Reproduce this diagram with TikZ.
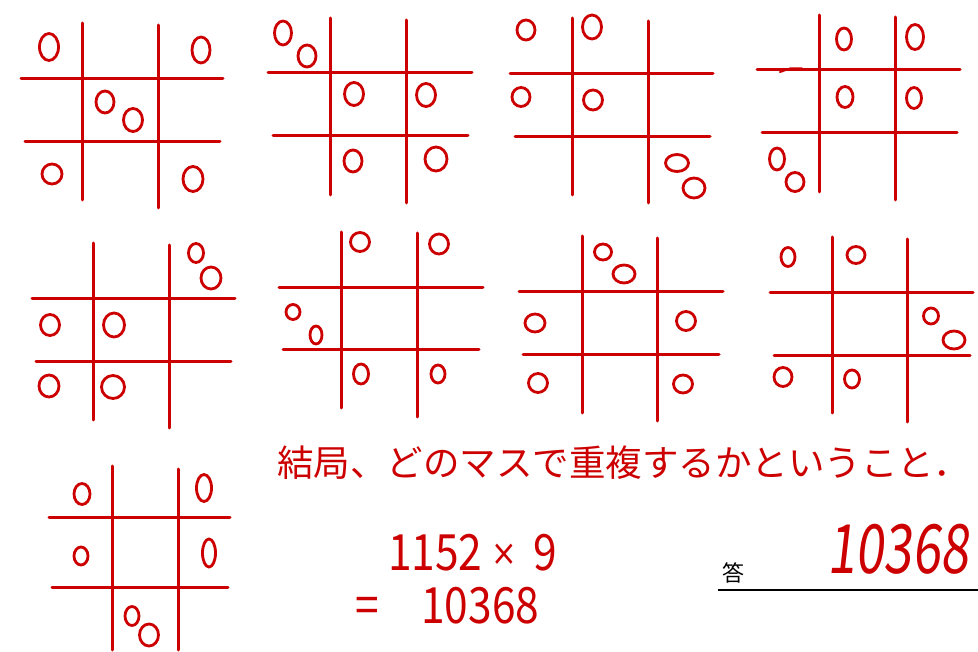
\documentclass[tikz,border=0pt]{standalone}
\usepackage{fontspec}
\usepackage{graphicx}
\usetikzlibrary{shapes.geometric}
\newfontfamily\tefont{Noto Sans CJK JP}
\newfontfamily\tenaname[FakeSlant=0.15]{Noto Sans CJK JP}
\newfontfamily\kakefont{DejaVu Sans}
\definecolor{aka}{RGB}{204,0,0}

\tikzstyle{sen} = [draw=aka, line width=3pt, line cap=round]
\tikzstyle{tegaki} = [text=aka, inner sep=0pt]
\tikzset{maru/.style 2 args={ellipse, draw=aka, line width=2.8pt, inner sep=0pt, minimum width=#1pt, minimum height=#2pt}}

\begin{document}
\begin{tikzpicture}[x=1pt, y=-1pt]
\useasboundingbox (0,0) rectangle (978,652);

% 1
\draw[sen] (82,23) -- (82,200);
\draw[sen] (158,25) -- (158,208);
\draw[sen] (21,79) -- (223,79);
\draw[sen] (25,142) -- (220,142);
\node[maru={19}{27}] (a1) at (49,47) {};
\node[maru={18}{26}] (a2) at (201,50) {};
\node[maru={18}{22}] (a3) at (105,102) {};
\node[maru={19}{23}] (a4) at (133,120) {};
\node[maru={20}{20}] (a5) at (52,174) {};
\node[maru={20}{25}] (a6) at (193,179) {};

% 2
\draw[sen] (330,18) -- (330,195);
\draw[sen] (406,20) -- (406,203);
\draw[sen] (268,73) -- (472,73);
\draw[sen] (273,136) -- (468,136);
\node[maru={17}{24}] (b1) at (283,33) {};
\node[maru={18}{22}] (b2) at (307,56) {};
\node[maru={19}{23}] (b3) at (354,94) {};
\node[maru={19}{23}] (b4) at (426,95) {};
\node[maru={18}{22}] (b5) at (353,161) {};
\node[maru={22}{24}] (b6) at (436,159) {};

% 3
\draw[sen] (572,18) -- (572,195);
\draw[sen] (648,21) -- (648,203);
\draw[sen] (510,74) -- (713,74);
\draw[sen] (515,137) -- (710,137);
\node[maru={18}{20}] (c1) at (526,30) {};
\node[maru={19}{24}] (c2) at (592,27) {};
\node[maru={18}{19}] (c3) at (521,97) {};
\node[maru={19}{20}] (c4) at (593,100) {};
\node[maru={23}{17}] (c5) at (677,163) {};
\node[maru={22}{20}] (c6) at (694,188) {};

% 4
\draw[sen] (819,15) -- (819,192);
\draw[sen] (895,17) -- (895,200);
\draw[sen] (757,70) -- (960,70);
\draw[sen] (762,133) -- (957,133);
\draw[sen, line width=2pt] (780,72) -- (790,68.5) -- (802,68.5);
\node[maru={15}{22}] (d1) at (844,39) {};
\node[maru={17}{25}] (d2) at (915,37) {};
\node[maru={16}{21}] (d3) at (845,97) {};
\node[maru={15}{21}] (d4) at (914,98) {};
\node[maru={15}{22}] (d5) at (777,159) {};
\node[maru={18}{19}] (d6) at (795,182) {};

% 5
\draw[sen] (93,243) -- (93,420);
\draw[sen] (169,245) -- (169,428);
\draw[sen] (32,299) -- (235,299);
\draw[sen] (36,362) -- (231,362);
\node[maru={15}{19}] (e1) at (196,253) {};
\node[maru={20}{22}] (e2) at (211,278) {};
\node[maru={19}{21}] (e3) at (50,325) {};
\node[maru={21}{24}] (e4) at (114,325) {};
\node[maru={20}{22}] (e5) at (49,386) {};
\node[maru={23}{23}] (e6) at (113,387) {};

% 6
\draw[sen] (341,232) -- (341,408);
\draw[sen] (417,233) -- (417,417);
\draw[sen] (279,288) -- (483,288);
\draw[sen] (283,350) -- (479,350);
\node[maru={19}{19}] (f1) at (360,242) {};
\node[maru={19}{20}] (f2) at (439,244) {};
\node[maru={14}{15}] (f3) at (293,312) {};
\node[maru={12}{18}] (f4) at (316,335) {};
\node[maru={15}{20}] (f5) at (361,374) {};
\node[maru={14}{18}] (f6) at (438,374) {};

% 7
\draw[sen] (582,236) -- (582,413);
\draw[sen] (657,238) -- (657,421);
\draw[sen] (519,292) -- (723,292);
\draw[sen] (523,355) -- (719,355);
\node[maru={17}{16}] (g1) at (603,252) {};
\node[maru={22}{18}] (g2) at (624,274) {};
\node[maru={20}{18}] (g3) at (535,323) {};
\node[maru={19}{19}] (g4) at (686,321) {};
\node[maru={19}{19}] (g5) at (538,383) {};
\node[maru={19}{18}] (g6) at (683,384) {};

% 8
\draw[sen] (832,237) -- (832,413);
\draw[sen] (907,239) -- (907,422);
\draw[sen] (770,293) -- (973,293);
\draw[sen] (774,356) -- (970,356);
\node[maru={14}{19}] (h1) at (788,257) {};
\node[maru={18}{17}] (h2) at (856,255) {};
\node[maru={15}{16}] (h3) at (931,316) {};
\node[maru={22}{18}] (h4) at (954,340) {};
\node[maru={18}{19}] (h5) at (783,377) {};
\node[maru={15}{18}] (h6) at (852,379) {};

% 9
\draw[sen] (112,466) -- (112,650);
\draw[sen] (178,469) -- (178,650);
\draw[sen] (49,517) -- (230,517);
\draw[sen] (52,587) -- (228,587);
\node[maru={16}{21}] (i1) at (82,494) {};
\node[maru={15}{27}] (i2) at (204,488) {};
\node[maru={14}{18}] (i3) at (81,556) {};
\node[maru={13}{28}] (i4) at (209,553) {};
\node[maru={14}{19}] (i5) at (132,616) {};
\node[maru={19}{22}] (i6) at (149,635) {};

\node[tegaki, anchor=west, font=\tefont\fontsize{36.5}{36.5}\selectfont] (kekkyoku) at (277,463) {結局、どのマスで重複するかということ．};
\node[tegaki, anchor=base west, font=\tefont\fontsize{50}{50}\selectfont] (shiki) at (388,570) {\scalebox{0.85}[1]{1152\hspace{10pt}\raisebox{5pt}{\kakefont\fontsize{36}{36}\selectfont ×}\hspace{20pt}9}};
\node[tegaki, anchor=base west, font=\tefont\fontsize{50}{50}\selectfont] (kotae) at (355,623) {\scalebox{0.85}[1]{=\quad 10368}};

\node[inner sep=0pt, font=\tefont\fontsize{22}{22}\selectfont] (ans) at (733,573) {答};
\coordinate (ans0) at (718,590);
\coordinate (ans1) at (978,590);
\draw[line width=1.2pt] (ans0) -- (ans1);
\node[tegaki, anchor=base west, font=\tenaname\fontsize{68}{68}\selectfont] (kaitou) at (827,573) {\scalebox{0.75}[1]{10368}};
\end{tikzpicture}
\end{document}
